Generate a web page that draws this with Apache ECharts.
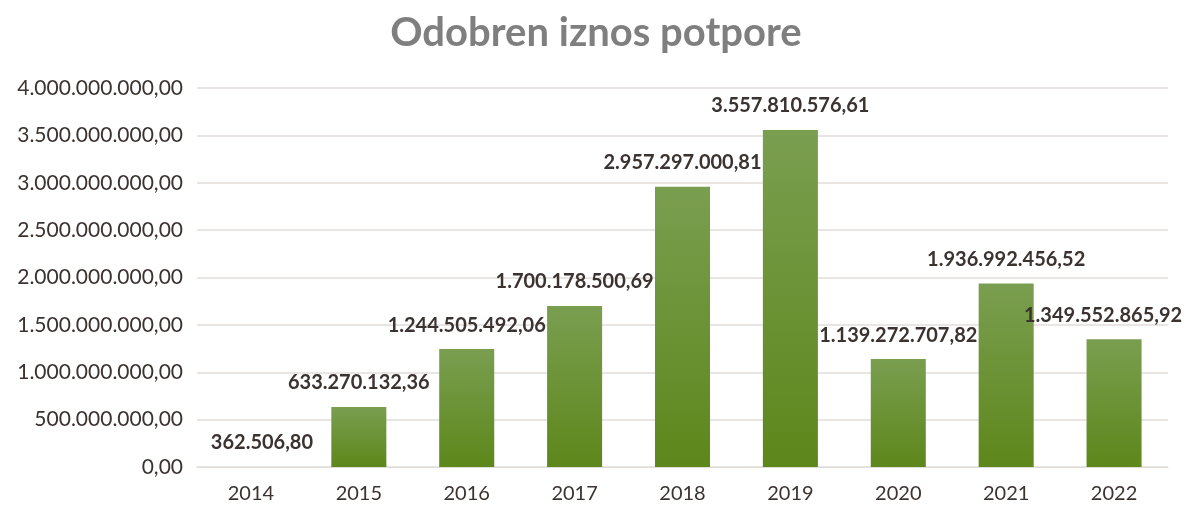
<!DOCTYPE html>
<html><head><meta charset="utf-8">
<script src="https://cdn.jsdelivr.net/npm/echarts@6/dist/echarts.min.js"></script>
<style>html,body{margin:0;padding:0;background:#fff}#c{width:1192px;height:509px}</style>
</head><body><div id="c"></div>
<script>
const titleText = "Odobren iznos potpore";
const categories = ["2014","2015","2016","2017","2018","2019","2020","2021","2022"];
const values = [362506.80, 633270132.36, 1244505492.06, 1700178500.69, 2957297000.81, 3557810576.61, 1139272707.82, 1936992456.52, 1349552865.92];

function fmt(v){
  const parts = v.toFixed(2).split(".");
  return parts[0].replace(/\B(?=(\d{3})+(?!\d))/g, ".") + "," + parts[1];
}
const font = "Lato, 'Open Sans', sans-serif";
const labelOffsets = {0:[11,0], 8:[-11,0]};
const chart = echarts.init(document.getElementById('c'));
chart.setOption({
  animation:false,
  title:{text:titleText,left:'center',top:8,textStyle:{fontFamily:font,fontSize:40,fontWeight:'bold',color:'#7f7f7f'}},
  grid:{left:197,right:24,top:88,bottom:42},
  xAxis:{type:'category',data:categories,axisTick:{show:false},
    axisLine:{lineStyle:{color:'#e0dcd9',width:1}},
    axisLabel:{fontFamily:font,fontSize:20,color:'#3b3330',margin:17}},
  yAxis:{type:'value',min:0,max:4000000000,interval:500000000,
    axisLine:{show:false},axisTick:{show:false},
    splitLine:{lineStyle:{color:'#e0dcd9',width:1.5}},
    axisLabel:{fontFamily:font,fontSize:21,color:'#3b3330',margin:14,formatter:v=>fmt(v)}},
  series:[{type:'bar',barWidth:'51%',
    data:values.map((v,i)=>({value:v,label:labelOffsets[i]?{offset:labelOffsets[i]}:undefined})),
    itemStyle:{color:new echarts.graphic.LinearGradient(0,0,0,1,[{offset:0,color:'#7a9e50'},{offset:1,color:'#5d871b'}])},
    label:{show:true,position:'top',distance:14,fontFamily:font,fontSize:20,fontWeight:'bold',color:'#3b3330',formatter:p=>fmt(p.value)}
  }]
});
</script></body></html>
